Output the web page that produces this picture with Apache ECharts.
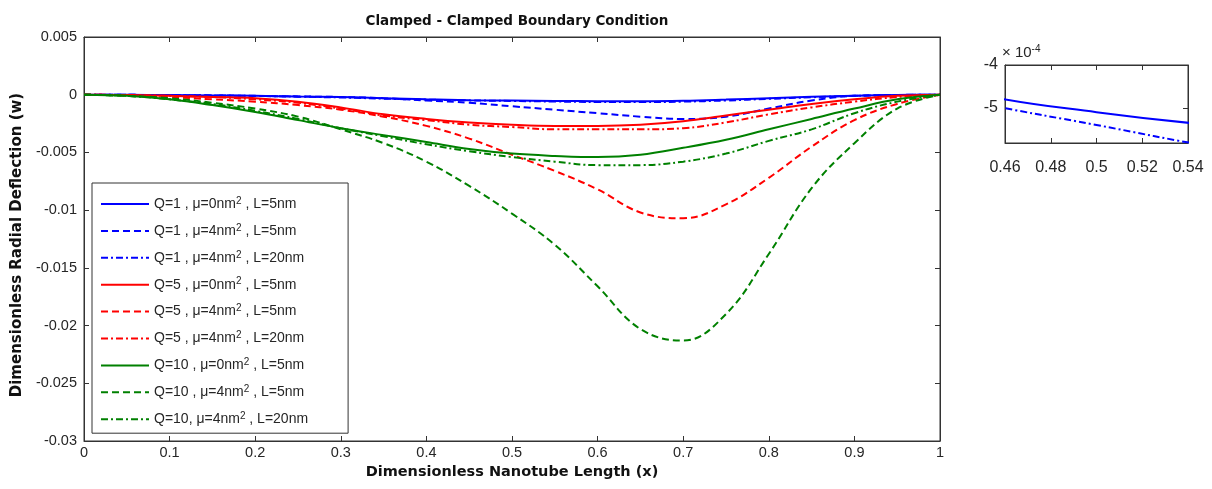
<!DOCTYPE html>
<html>
<head>
<meta charset="utf-8">
<script src="https://cdn.jsdelivr.net/npm/echarts@6/dist/echarts.min.js"></script>
<style>
  html, body { margin: 0; padding: 0; background: #fff; }
  #chart { width: 1212px; height: 489px; }
</style>
</head>
<body>
<div id="chart"></div>
<script>
// x positions along the nanotube
const xs = [0, 0.05, 0.1, 0.15, 0.2, 0.25, 0.3, 0.35, 0.4, 0.45, 0.5,
            0.55, 0.6, 0.65, 0.7, 0.75, 0.8, 0.85, 0.9, 0.95, 1];

// deflection values
const q1mu0L5  = [0, -0.00001, -0.00003, -0.00006, -0.0001, -0.00015, -0.0002, -0.0003, -0.0004, -0.00047, -0.00051,
                  -0.00054, -0.00056, -0.00056, -0.00052, -0.00042, -0.0003, -0.00018, -0.00008, -0.00002, 0];
const q1mu4L5  = [0, -0.00001, -0.00003, -0.00006, -0.0001, -0.00015, -0.0002, -0.0003, -0.0005, -0.0007, -0.001,
                  -0.0013, -0.0016, -0.0019, -0.0021, -0.0019, -0.0012, -0.0005, -0.0001, -0.00002, 0];
const q1mu4L20 = [0, -0.00001, -0.00003, -0.00006, -0.00011, -0.00017, -0.00024, -0.00034, -0.00043, -0.00049, -0.00054,
                  -0.00059, -0.00063, -0.00064, -0.0006, -0.0005, -0.00036, -0.00022, -0.0001, -0.00003, 0];
const q5mu0L5  = [0, -0.00003, -0.0001, -0.0002, -0.0003, -0.0006, -0.0011, -0.0017, -0.0021, -0.0024, -0.0026,
                  -0.0027, -0.0027, -0.0026, -0.0023, -0.0018, -0.0013, -0.0008, -0.0004, -0.0001, 0];
const q5mu4L5  = [0, -0.00005, -0.0002, -0.0004, -0.0006, -0.0009, -0.0013, -0.0019, -0.0027, -0.0038, -0.0052,
                  -0.0066, -0.0082, -0.0102, -0.0107, -0.0095, -0.0072, -0.0045, -0.0022, -0.0008, 0];
const q5mu4L20 = [0, -0.00003, -0.0001, -0.0002, -0.0004, -0.0007, -0.0012, -0.0018, -0.0022, -0.0026, -0.0028,
                  -0.003, -0.003, -0.003, -0.0029, -0.0024, -0.0017, -0.0011, -0.0006, -0.0002, 0];
const q10mu0L5  = [0, -0.0001, -0.0004, -0.0009, -0.0015, -0.0022, -0.0029, -0.0035, -0.0041, -0.0047, -0.0051,
                   -0.0053, -0.0054, -0.0052, -0.0046, -0.0039, -0.003, -0.0021, -0.0012, -0.0004, 0];
const q10mu4L5  = [0, -0.0001, -0.0003, -0.0007, -0.0012, -0.0019, -0.003, -0.0042, -0.0058, -0.0079, -0.0103,
                   -0.013, -0.0166, -0.0203, -0.0213, -0.019, -0.0138, -0.0081, -0.0042, -0.0012, 0];
const q10mu4L20 = [0, -0.0001, -0.0004, -0.0008, -0.0014, -0.0021, -0.0029, -0.0036, -0.0043, -0.0049, -0.0054,
                   -0.0058, -0.0061, -0.0061, -0.0058, -0.0051, -0.004, -0.003, -0.0016, -0.0006, 0];

const BLUE = '#0000ff', RED = '#ff0000', GREEN = '#008000';
const DASH = [7, 4];
const DASHDOT = [7, 3, 2, 3];
const BFONT = '"DejaVu Sans", Verdana, sans-serif';
const FONT = '"Liberation Sans", Arial, sans-serif';
const TXT = '#262626';

const curves = [
  { name: 'Q=1 , μ=0nm2 , L=5nm',   data: q1mu0L5,   color: BLUE,  type: 'solid' },
  { name: 'Q=1 , μ=4nm2 , L=5nm',   data: q1mu4L5,   color: BLUE,  type: DASH },
  { name: 'Q=1 , μ=4nm2 , L=20nm',  data: q1mu4L20,  color: BLUE,  type: DASHDOT },
  { name: 'Q=5 , μ=0nm2 , L=5nm',   data: q5mu0L5,   color: RED,   type: 'solid' },
  { name: 'Q=5 , μ=4nm2 , L=5nm',   data: q5mu4L5,   color: RED,   type: DASH },
  { name: 'Q=5 , μ=4nm2 , L=20nm',  data: q5mu4L20,  color: RED,   type: DASHDOT },
  { name: 'Q=10 , μ=0nm2 , L=5nm',  data: q10mu0L5,  color: GREEN, type: 'solid' },
  { name: 'Q=10 , μ=4nm2 , L=5nm',  data: q10mu4L5,  color: GREEN, type: DASH },
  { name: 'Q=10, μ=4nm2 , L=20nm',  data: q10mu4L20, color: GREEN, type: DASHDOT }
];

const pairs = (arr, scale) => xs.map((x, i) => [x, arr[i] * (scale || 1)]);

const tickStyle = { inside: true, length: 5, lineStyle: { color: '#333', width: 1 } };
const lineAx = { onZero: false, lineStyle: { color: '#333', width: 1 } };
const lbl = size => ({ color: TXT, fontFamily: FONT, fontSize: size });
const boldName = size => ({ fontSize: size, fontWeight: 'bold', color: '#111', fontFamily: BFONT });

const chart = echarts.init(document.getElementById('chart'));

const series = curves.map(c => ({
  name: c.name,
  type: 'line',
  xAxisIndex: 0,
  yAxisIndex: 0,
  data: pairs(c.data),
  smooth: 0.4,
  symbol: 'none',
  lineStyle: { color: c.color, width: 2, type: c.type },
  itemStyle: { color: c.color },
  z: 3
}));

// inset: Q=1 solid and dash-dot, zoomed on 0.46..0.54 (values in 1e-4, sign flipped for inverse axis)
series.push({
  name: 'inset-solid', type: 'line', xAxisIndex: 2, yAxisIndex: 2,
  data: pairs(q1mu0L5, -1e4), smooth: 0.4, symbol: 'none',
  lineStyle: { color: BLUE, width: 2, type: 'solid' }
});
series.push({
  name: 'inset-dashdot', type: 'line', xAxisIndex: 2, yAxisIndex: 2,
  data: pairs(q1mu4L20, -1e4), smooth: 0.4, symbol: 'none',
  lineStyle: { color: BLUE, width: 2, type: DASHDOT }
});

const option = {
  animation: false,
  backgroundColor: '#fff',
  textStyle: { fontFamily: FONT },
  title: {
    text: 'Clamped - Clamped Boundary Condition',
    left: 512, top: 9, textAlign: 'center',
    textStyle: boldName(13.5)
  },
  legend: {
    data: curves.map(c => c.name),
    orient: 'vertical',
    left: 92, top: 183,
    padding: [13, 40, 5, 8],
    itemWidth: 48, itemHeight: 14, itemGap: 9.9,
    backgroundColor: '#fff',
    borderColor: '#333', borderWidth: 1, borderRadius: 0,
    itemStyle: { color: 'transparent', borderColor: 'transparent', borderWidth: 0, opacity: 0 },
    formatter: n => '{a|' + n.replace('nm2', 'nm}{sup|2}{a|') + '}',
    textStyle: {
      color: TXT, fontFamily: FONT, fontSize: 14,
      rich: {
        a: { fontSize: 14, fontFamily: FONT, color: TXT, lineHeight: 16 },
        sup: { fontSize: 10, fontFamily: FONT, color: TXT, verticalAlign: 'top', lineHeight: 16, padding: [0, 0, 7, 0] }
      }
    }
  },
  grid: [
    { left: 84, right: 272, top: 37, bottom: 48, show: true, borderColor: '#333', borderWidth: 1 },
    { left: 1005, right: 24, top: 65, bottom: 346, show: true, borderColor: '#333', borderWidth: 1 }
  ],
  xAxis: [
    {
      gridIndex: 0, type: 'value', min: 0, max: 1, interval: 0.1,
      name: 'Dimensionless Nanotube Length (x)', nameLocation: 'middle', nameGap: 22,
      nameTextStyle: boldName(14.5),
      axisLine: lineAx, axisTick: tickStyle, splitLine: { show: false },
      axisLabel: Object.assign({ margin: 4, formatter: v => String(+v.toFixed(2)) }, lbl(14.5))
    },
    {
      gridIndex: 0, type: 'value', position: 'top', min: 0, max: 1, interval: 0.1,
      axisLine: lineAx, axisTick: tickStyle, splitLine: { show: false }, axisLabel: { show: false }
    },
    {
      gridIndex: 1, type: 'value', min: 0.46, max: 0.54, interval: 0.02,
      axisLine: lineAx, axisTick: tickStyle, splitLine: { show: false },
      axisLabel: Object.assign({ margin: 17, formatter: v => String(+v.toFixed(2)) }, lbl(16))
    },
    {
      gridIndex: 1, type: 'value', position: 'top', min: 0.46, max: 0.54, interval: 0.02,
      axisLine: lineAx, axisTick: tickStyle, splitLine: { show: false }, axisLabel: { show: false }
    }
  ],
  yAxis: [
    {
      gridIndex: 0, type: 'value', min: -0.03, max: 0.005, interval: 0.005,
      name: 'Dimensionless Radial Deflection (w)', nameLocation: 'middle', nameGap: 52,
      nameTextStyle: Object.assign(boldName(15), { padding: [0, 12, 0, 0] }),
      axisLine: lineAx, axisTick: tickStyle, splitLine: { show: false },
      axisLabel: Object.assign({ margin: 7, formatter: v => String(+v.toFixed(3)) }, lbl(14.5))
    },
    {
      gridIndex: 0, type: 'value', position: 'right', min: -0.03, max: 0.005, interval: 0.005,
      axisLine: lineAx, axisTick: tickStyle, splitLine: { show: false }, axisLabel: { show: false }
    },
    {
      gridIndex: 1, type: 'value', inverse: true, min: 4, max: 5.82, interval: 1,
      axisLine: lineAx, axisTick: tickStyle, splitLine: { show: false },
      axisLabel: Object.assign({ margin: 7, showMaxLabel: false, formatter: v => '-' + Math.round(v) }, lbl(16))
    },
    {
      gridIndex: 1, type: 'value', position: 'right', inverse: true, min: 4, max: 5.82, interval: 1,
      axisLine: lineAx, axisTick: tickStyle, splitLine: { show: false }, axisLabel: { show: false }
    }
  ],
  graphic: [
    {
      type: 'text', left: 1002, top: 44,
      style: {
        text: '{a|× 10}{sup|-4}',
        rich: {
          a: { fontSize: 15, fontFamily: FONT, fill: TXT, lineHeight: 17 },
          sup: { fontSize: 10, fontFamily: FONT, fill: TXT, verticalAlign: 'top', lineHeight: 17, padding: [0, 0, 8, 0] }
        }
      }
    }
  ],
  series: series
};

chart.setOption(option);
</script>
</body>
</html>
